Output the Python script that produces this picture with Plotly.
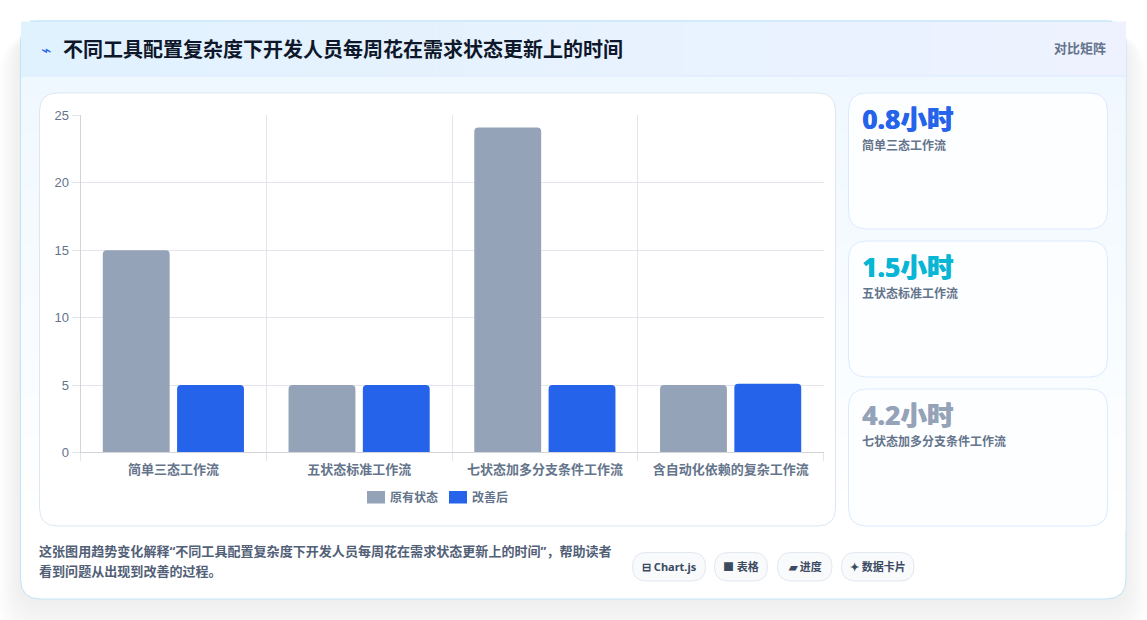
import plotly.graph_objects as go

W, H = 1147, 620
categories = ["简单三态工作流", "五状态标准工作流", "七状态加多分支条件工作流", "含自动化依赖的复杂工作流"]
series_names = ["原有状态", "改善后"]
before = [15, 5, 24.1, 5]
after = [5, 5, 5, 5.1]
series_colors = ["#94a3b8", "#2563eb"]
y_ticks = [0, 5, 10, 15, 20, 25]
title = "不同工具配置复杂度下开发人员每周花在需求状态更新上的时间"
stat_values = ["0.8小时", "1.5小时", "4.2小时"]
stat_labels = ["简单三态工作流", "五状态标准工作流", "七状态加多分支条件工作流"]
stat_colors = ["#2563eb", "#06b6d4", "#94a3b8"]
caption_lines = ["这张图用趋势变化解释“不同工具配置复杂度下开发人员每周花在需求状态更新上的时间”，帮助读者",
                 "看到问题从出现到改善的过程。"]
chips = ["⊟ Chart.js", "■ 表格", "▰ 进度", "✦ 数据卡片"]

FONT = "Noto Sans CJK SC"
MIXED = "Noto Sans, Noto Sans CJK SC"


def X(p):
    return p / W


def Y(p):
    return 1 - p / H


def rr(x0, y0, x1, y1, r):
    return (f"M{X(x0+r)},{Y(y0)} L{X(x1-r)},{Y(y0)} Q{X(x1)},{Y(y0)} {X(x1)},{Y(y0+r)} "
            f"L{X(x1)},{Y(y1-r)} Q{X(x1)},{Y(y1)} {X(x1-r)},{Y(y1)} "
            f"L{X(x0+r)},{Y(y1)} Q{X(x0)},{Y(y1)} {X(x0)},{Y(y1-r)} "
            f"L{X(x0)},{Y(y0+r)} Q{X(x0)},{Y(y0)} {X(x0+r)},{Y(y0)} Z")


def mix(a, b, t):
    return "rgb(" + ",".join(str(round(a[i] + (b[i] - a[i]) * t)) for i in range(3)) + ")"


shapes = []
annots = []


def round_box(x0, y0, x1, y1, r, fill, line=None, lw=1):
    shapes.append(dict(type="path", xref="paper", yref="paper", path=rr(x0, y0, x1, y1, r), fillcolor=fill,
                       line=dict(color=line or "rgba(0,0,0,0)", width=lw if line else 0), layer="below"))


def strip(x0, y0, x1, y1, fill):
    shapes.append(dict(type="rect", xref="paper", yref="paper", x0=X(x0), x1=X(x1), y0=Y(y0), y1=Y(y1),
                       fillcolor=fill, line=dict(width=0), layer="below"))


def text(x, y, s, size, color, weight=400, anchor="left", family=FONT, shadow=None):
    f = dict(family=family, size=size, color=color, weight=weight)
    if shadow:
        f["shadow"] = shadow
    annots.append(dict(xref="paper", yref="paper", x=X(x), y=Y(y), text=s, showarrow=False, xanchor=anchor,
                       yanchor="middle", align="left", borderpad=0, font=f))


# soft drop shadow of the page card
for i in range(16, 0, -1):
    d = i * 2.0
    round_box(20 - d * 0.7, 36 - d * 0.2, 1126 + d * 0.7, 599 + d * 1.6, 20 + d, "rgba(15,23,42,0.0038)")

# main card
round_box(20.5, 21, 1126, 599, 20, "#ffffff", "#bfe3f7", 1)
# body gradient
n = 24
for i in range(n):
    y0 = 76 + (530 - 76) * i / n
    y1 = 76 + (530 - 76) * (i + 1) / n + 0.5
    strip(21, y0, 1125.5, y1, mix((240, 248, 255), (255, 255, 255), i / (n - 1)))
# header gradient
n = 40
for i in range(n):
    x0 = 21 + (1125.5 - 21) * i / n
    x1 = 21 + (1125.5 - 21) * (i + 1) / n + 0.5
    strip(x0, 21.5, x1, 76, mix((224, 242, 254), (238, 242, 255), i / (n - 1)))
shapes.append(dict(type="line", xref="paper", yref="paper", x0=X(21), x1=X(1125.5), y0=Y(76), y1=Y(76),
                   line=dict(color="#dbeafe", width=1), layer="below"))
shapes.append(dict(type="line", xref="paper", yref="paper", x0=X(30), x1=X(1112), y0=Y(21), y1=Y(21),
                   line=dict(color="#bfe3f7", width=1), layer="below"))

# chart card
round_box(39.5, 93, 835.5, 526, 18, "#ffffff", "#dbe7f3", 1)
# stat cards
card_tops = [93, 241, 389]
card_bots = [229, 377, 526]
for i in range(3):
    round_box(848.5, card_tops[i], 1107.5, card_bots[i], 18, "#fdfeff", "#dbeafe", 1)
    text(861, card_tops[i] + 25.5, stat_values[i], 26.5, stat_colors[i], 800, family=MIXED,
         shadow=f"0.5px 0 0 {stat_colors[i]}")
    text(861, card_tops[i] + 51.5, stat_labels[i], 12, "#64748b", 700)

# header
text(40, 50, "⌁", 17, "#2563eb", 400, family="DejaVu Sans")
text(61.5, 49, title, 20, "#0f172a", 700)
text(1106.5, 48, "对比矩阵", 13, "#64748b", 700, anchor="right")

# caption
text(38, 550.5, caption_lines[0], 13.05, "#526077", 700, family=MIXED)
text(38, 570.5, caption_lines[1], 13.05, "#526077", 700, family=MIXED)

# chips
chip_x = [(632, 705.5), (714, 767.5), (777, 832), (841, 914)]
for (x0, x1), c in zip(chip_x, chips):
    round_box(x0 + .5, 552.5, x1, 581, 14, "#f8fafc", "#e2e8f0", 1)
    text((x0 + x1) / 2 + 0.5, 566.5, c, 11, "#3b4a60", 700, anchor="center", family=MIXED)

# legend drawn to the reference's wide swatches
leg_swatch = [(367, 385), (449, 467)]
leg_text = [389, 471]
for i in range(2):
    strip(leg_swatch[i][0], 491, leg_swatch[i][1], 503.5, series_colors[i])
    shapes[-1]["layer"] = "above"
    text(leg_text[i], 496.5, series_names[i], 12, "#64748b", 700)

fig = go.Figure()
for name, vals, col in zip(series_names, [before, after], series_colors):
    fig.add_trace(go.Bar(name=name, x=categories, y=vals, marker=dict(color=col, cornerradius=4, line=dict(width=0)),
                         showlegend=False))

fig.update_layout(
    width=W, height=H, autosize=False,
    margin=dict(l=0, r=0, t=0, b=0, pad=0, autoexpand=False), paper_bgcolor="#ffffff", plot_bgcolor="rgba(0,0,0,0)",
    barmode="group", bargap=0.2, bargroupgap=0.1,
    font=dict(family=FONT, color="#64748b"),
    shapes=shapes, annotations=annots,
    xaxis=dict(domain=[X(80.5), X(823.5)], tickson="boundaries", ticks="outside", ticklen=8, tickcolor="#e2e6ec",
               showgrid=True, gridcolor="#e2e6ec", gridwidth=1, showline=True, linecolor="#d1d5db", linewidth=1,
               tickfont=dict(size=13, color="#64748b", weight=700), zeroline=False, fixedrange=True,
               automargin=False, ticklabelstandoff=5),
    yaxis=dict(domain=[Y(452.4), Y(115.4)], range=[0, 25], tickvals=y_ticks, ticks="outside", ticklen=8,
               tickcolor="#e2e6ec", showgrid=True, gridcolor="#e2e6ec", gridwidth=1, showline=True,
               linecolor="#d1d5db", linewidth=1, zeroline=False,
               tickfont=dict(size=13, color="#64748b", family="Liberation Sans"),
               fixedrange=True, automargin=False),
)
fig.write_html("out.html", config=dict(displayModeBar=False),
               post_script="document.body.style.margin='0';document.body.style.overflow='hidden';")
